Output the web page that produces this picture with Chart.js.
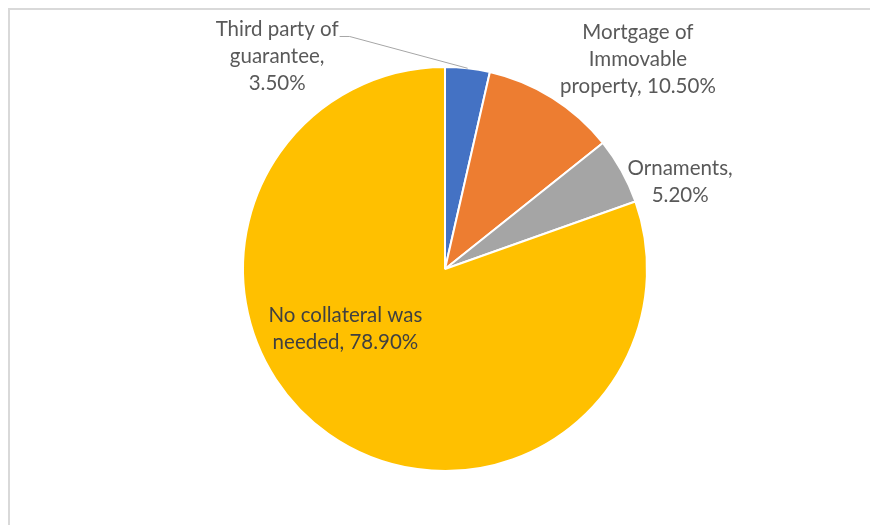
<!DOCTYPE html>
<html>
<head>
<meta charset="utf-8">
<title>Collateral pie</title>
<script src="https://cdn.jsdelivr.net/npm/chart.js@4"></script>
<style>
    html, body { margin: 0; padding: 0; background: #ffffff; }
    #wrap { position: relative; width: 870px; height: 525px; overflow: hidden; }
    #frame {
        position: absolute; left: 8px; top: 8px;
        width: 920px; height: 600px;
        border: 2px solid #d9d9d9; box-sizing: border-box;
    }
    #pieChart { position: absolute; left: 0; top: 0; }
</style>
</head>
<body>
<div id="wrap">
    <div id="frame"></div>
    <canvas id="pieChart" width="870" height="525"></canvas>
</div>
<script>
// Collateral types (multi-line names) and their shares in percent
const categories = [
    ['Third party of', 'guarantee'],
    ['Mortgage of', 'Immovable', 'property'],
    ['Ornaments'],
    ['No collateral was', 'needed']
];
const shares = [3.5, 10.5, 5.2, 78.9];
const sliceColors = ['#4472c4', '#ed7d31', '#a5a5a5', '#ffc000'];

// Where each label sits, as a fraction of the radius from the pie centre
const labelPlacement = [
    { dx: -0.831, dy: -1.052, ownLine: true,  color: '#595959', leader: true },
    { dx: 0.955,  dy: -1.040, ownLine: false, color: '#595959', leader: false },
    { dx: 1.164,  dy: -0.433, ownLine: true,  color: '#595959', leader: false },
    { dx: -0.493, dy: 0.296,  ownLine: false, color: '#404040', leader: false }
];

const LABEL_FONT = '20.5px Lato';
const LINE_HEIGHT = 27;

// Draws the data labels (and the leader line for the thin slice)
const sliceLabels = {
    id: 'sliceLabels',
    afterDatasetsDraw(chart) {
        const ctx = chart.ctx;
        const meta = chart.getDatasetMeta(0);
        ctx.save();
        ctx.font = LABEL_FONT;
        ctx.textAlign = 'center';
        ctx.textBaseline = 'middle';
        meta.data.forEach(function(arc, i) {
            const p = arc.getProps(['x', 'y', 'startAngle', 'endAngle', 'outerRadius'], true);
            const place = labelPlacement[i];
            const lines = categories[i].slice();
            const pct = shares[i].toFixed(2) + '%';
            if (place.ownLine) {
                lines[lines.length - 1] += ',';
                lines.push(pct);
            } else {
                lines[lines.length - 1] += ', ' + pct;
            }
            const cx = p.x + place.dx * p.outerRadius;
            const cy = p.y + place.dy * p.outerRadius;
            const top = cy - (lines.length - 1) * LINE_HEIGHT / 2;
            ctx.fillStyle = place.color;
            lines.forEach(function(t, k) {
                ctx.fillText(t, cx, top + k * LINE_HEIGHT);
            });
            if (place.leader) {
                const w = ctx.measureText(lines[0]).width;
                const sx = cx + w / 2 + 1;
                const sy = top + 7;
                const mid = (p.startAngle + p.endAngle) / 2;
                const ex = p.x + Math.cos(mid) * p.outerRadius;
                const ey = p.y + Math.sin(mid) * p.outerRadius;
                ctx.strokeStyle = '#a6a6a6';
                ctx.lineWidth = 1;
                ctx.beginPath();
                ctx.moveTo(sx, sy);
                ctx.lineTo(sx + 10, sy);
                ctx.lineTo(ex, ey);
                ctx.stroke();
            }
        });
        ctx.restore();
    }
};

document.addEventListener('DOMContentLoaded', function() {
    const pieCtx = document.getElementById('pieChart');
    new Chart(pieCtx, {
        type: 'pie',
        data: {
            labels: categories.map(function(c) { return c.join(' '); }),
            datasets: [{
                data: shares,
                backgroundColor: sliceColors,
                borderColor: '#ffffff',
                borderWidth: 2
            }]
        },
        options: {
            responsive: false,
            animation: false,
            layout: {
                padding: { top: 66, bottom: 53, left: 20, right: 0 }
            },
            plugins: {
                legend: { display: false },
                tooltip: { enabled: false }
            }
        },
        plugins: [sliceLabels]
    });
});
</script>
</body>
</html>
